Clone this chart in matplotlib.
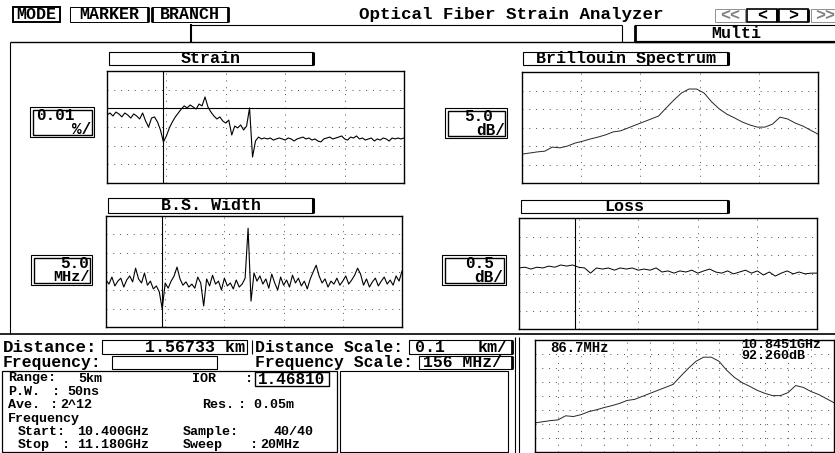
import numpy as np
import matplotlib
matplotlib.use("Agg")
import matplotlib.pyplot as plt
from matplotlib.patches import Rectangle

# ---- values ----
dist_start = 1.473      # km at left edge of the distance plots
dist_step = 0.005       # km per sample (strain, B.S. width)
loss_step = 0.01        # km per sample (loss)
dist_span = 0.5         # 0.1 km/div, 5 div
marker_km = 1.56733

strain_ref = 0.0        # horizontal reference line (%)
strain = [-0.0036, -0.0025, -0.0041, -0.0020, -0.0030, -0.0046, -0.0025, -0.0036, -0.0052, -0.0030,
          -0.0041, -0.0057, -0.0025, -0.0068, -0.0100, -0.0052, -0.0046, -0.0073, -0.0116, -0.0180,
          -0.0148, -0.0105, -0.0073, -0.0046, -0.0025, -0.0004, 0.0013, 0.0002, 0.0018, 0.0007,
          -0.0004, 0.0023, 0.0013, 0.0061, 0.0007, -0.0020, -0.0041, -0.0057, -0.0046, -0.0068,
          -0.0079, -0.0063, -0.0143, -0.0095, -0.0105, -0.0089, -0.0116, -0.0095, 0.0002, -0.0261,
          -0.0175, -0.0154, -0.0164, -0.0159, -0.0164, -0.0159, -0.0170, -0.0164, -0.0159, -0.0164,
          -0.0170, -0.0159, -0.0164, -0.0175, -0.0164, -0.0159, -0.0154, -0.0164, -0.0159, -0.0170,
          -0.0164, -0.0175, -0.0180, -0.0164, -0.0159, -0.0154, -0.0164, -0.0159, -0.0154, -0.0148,
          -0.0164, -0.0170, -0.0154, -0.0159, -0.0148, -0.0164, -0.0159, -0.0170, -0.0164, -0.0159,
          -0.0175, -0.0164, -0.0170, -0.0159, -0.0164, -0.0175, -0.0159, -0.0164, -0.0159, -0.0164,
          -0.0159]

bs_width = [32.7, 31.6, 33.5, 31.1, 32.4, 33.2, 30.8, 32.7, 33.8, 32.2,
            35.9, 33.0, 31.9, 34.6, 31.3, 32.4, 30.3, 31.1, 29.5, 24.9,
            31.9, 30.5, 32.4, 33.8, 36.2, 33.0, 31.3, 32.2, 30.8, 31.6,
            30.5, 33.5, 31.9, 25.7, 33.0, 31.1, 34.0, 31.6, 32.4, 30.0,
            33.2, 31.1, 31.9, 30.3, 32.7, 30.8, 31.6, 33.2, 46.7, 27.0,
            34.6, 32.4, 33.8, 31.6, 33.0, 30.5, 34.3, 31.9, 30.0, 33.5,
            31.3, 32.7, 30.8, 34.0, 31.9, 33.2, 31.1, 32.4, 30.3, 33.0,
            34.9, 36.7, 33.8, 31.9, 33.0, 30.8, 32.4, 31.6, 33.2, 31.3,
            32.4, 33.8, 31.6, 32.7, 34.0, 35.9, 34.3, 31.3, 33.0, 30.8,
            32.2, 33.2, 31.1, 32.4, 33.5, 31.6, 32.7, 31.3, 33.8, 32.4,
            35.1]

loss = [1.65, 1.67, 1.62, 1.67, 1.65, 1.70, 1.67, 1.73, 1.70, 1.73,
        1.67, 1.65, 1.51, 1.65, 1.62, 1.65, 1.59, 1.65, 1.62, 1.65,
        1.59, 1.62, 1.59, 1.65, 1.54, 1.57, 1.51, 1.57, 1.54, 1.59,
        1.51, 1.57, 1.62, 1.54, 1.51, 1.57, 1.49, 1.54, 1.59, 1.51,
        1.57, 1.46, 1.54, 1.43, 1.51, 1.57, 1.49, 1.54, 1.49, 1.51,
        1.51]

freq_start = 10.40      # GHz
freq_stop = 11.18
freq_step = 0.02        # sweep 20 MHz, 40 samples
spectrum = [74.8, 75.1, 75.4, 75.6, 76.7, 76.5, 77.0, 77.8, 78.3, 78.9,
            79.4, 80.0, 80.8, 81.1, 81.9, 82.7, 83.5, 84.3, 85.1, 87.3,
            89.4, 91.3, 92.4, 92.4, 91.3, 88.9, 87.0, 85.6, 84.6, 83.5,
            82.7, 82.1, 82.1, 82.9, 84.8, 84.3, 83.2, 82.4, 81.3, 80.2]

dist_x = dist_start + dist_step * np.arange(len(strain))
loss_x = dist_start + loss_step * np.arange(len(loss))
freq_x = freq_start + freq_step * np.arange(len(spectrum))

W, H = 835, 453
FONT = "Liberation Mono"
BIG = 12.0
SMALL = 9.6

fig = plt.figure(figsize=(W / 100, H / 100), dpi=100)
ui = fig.add_axes([0, 0, 1, 1])
ui.set_xlim(0, W)
ui.set_ylim(H, 0)
ui.axis("off")
ui.set_zorder(5)


def px_axes(x0, y0, x1, y1):
    return fig.add_axes([x0 / W, 1 - y1 / H, (x1 - x0) / W, (y1 - y0) / H])


def line(xs, ys, lw=0.8, color="k"):
    ui.plot(xs, ys, color=color, lw=lw, solid_capstyle="butt")


def box(x0, y0, x1, y1, lw=0.8, right=0, left=0, bottom=0, color="k"):
    ui.add_patch(Rectangle((x0, y0), x1 - x0, y1 - y0, fill=False, ec=color, lw=lw))
    if right:
        line([x1, x1], [y0, y1], lw=right)
    if left:
        line([x0, x0], [y0, y1], lw=left)
    if bottom:
        line([x0, x1], [y1, y1], lw=bottom)


def txt(x, y, s, size=BIG, ha="left", color="k"):
    ui.text(x, y, s, fontsize=size, ha=ha, va="center", family=FONT,
            weight="bold", color=color)


def scale_box(x0, y0, x1, y1):
    box(x0, y0, x1, y1, lw=0.8)
    box(x0 + 2.5, y0 + 2.5, x1 - 2.5, y1 - 2.5, lw=1.0)


def scope(rect, xlim, ylim, nx, ny):
    ax = px_axes(*rect)
    ax.set_xlim(xlim)
    ax.set_ylim(ylim)
    ax.set_xticks(np.linspace(xlim[0], xlim[1], nx + 1)[1:-1])
    ax.set_yticks(np.linspace(ylim[0], ylim[1], ny + 1)[1:-1])
    ax.grid(True, color="0.3", lw=0.7, ls=(0, (1, 6)))
    ax.tick_params(length=0, labelbottom=False, labelleft=False)
    for s in ax.spines.values():
        s.set_linewidth(1.0)
    return ax


dist_lim = (dist_start, dist_start + dist_span)
freq_lim = (freq_start, freq_stop)

# strain
ax = scope((107, 71, 404, 183), dist_lim, (-0.04, 0.02), 5, 6)
ax.axhline(strain_ref, color="k", lw=0.8)
ax.plot(dist_x, strain, color="k", lw=0.8)
ax.axvline(marker_km, color="k", lw=0.8)

# brillouin spectrum
ax = scope((522, 72, 818, 183), freq_lim, (67, 97), 5, 6)
ax.plot(freq_x, spectrum, color="0.15", lw=0.7)

# B.S. width
ax = scope((106, 216, 402, 327), dist_lim, (20, 50), 5, 6)
ax.plot(dist_x, bs_width, color="k", lw=0.8)
ax.axvline(marker_km, color="k", lw=0.8)

# loss
ax = scope((519, 218, 817, 329), dist_lim, (0, 3), 5, 6)
ax.plot(loss_x, loss, color="k", lw=0.7)
ax.axvline(marker_km, color="k", lw=0.8)

# small spectrum at bottom right
ax = scope((535, 340, 834, 452), freq_lim, (67, 97), 13, 8)
ax.plot(freq_x, spectrum, color="0.15", lw=0.7)

# ---- top bar ----
box(13, 7, 60, 22, lw=1.4)
txt(36.5, 14.5, "MODE", ha="center")
box(70, 7, 148, 22, lw=0.7, right=2.0)
txt(109, 14.5, "MARKER", ha="center")
box(152, 7, 228, 22, lw=0.7, left=2.0, right=2.0)
txt(190, 14.5, "BRANCH", ha="center")
txt(511, 14, "Optical Fiber Strain Analyzer", ha="center", size=12.6)

box(715, 9, 745, 22, lw=0.6, color="0.5")
txt(730, 15.5, "<<", ha="center", color="0.5")
box(747, 9, 777, 22, lw=1.2, right=2.0)
txt(762, 15.5, "<", ha="center")
box(779, 9, 808, 22, lw=1.2, right=2.0)
txt(793.5, 15.5, ">", ha="center")
box(811, 9, 845, 22, lw=0.6, color="0.5")
txt(815, 15.5, ">>", color="0.5")

line([191, 191], [24, 42], lw=1.5)
line([191, 622], [25, 25])
line([622, 622], [25, 42])
box(635, 25, 845, 42, lw=0.8, left=2.0, bottom=1.6)
txt(736, 33, "Multi", ha="center")

line([10, 835], [42, 42], lw=1.0)
line([10, 10], [42, 334])
line([0, 835], [334, 334], lw=1.2)

# ---- plot headers and scale boxes ----
box(109, 52, 313, 65, right=2.2)
txt(211, 58.5, "Strain", ha="center")
box(523, 52, 728, 65, right=2.2)
txt(626, 58.5, "Brillouin Spectrum", ha="center")
box(108, 198, 313, 213, right=2.2)
txt(211, 205.5, "B.S. Width", ha="center")
box(521, 200, 728, 213, right=2.2)
txt(624, 206.5, "Loss", ha="center")

scale_box(30, 107, 94, 137)
txt(36, 115.5, "0.01", size=11.5)
txt(91, 129, "%/", ha="right", size=11.5)
scale_box(445, 108, 507, 138)
txt(493, 116.5, "5.0", ha="right", size=11.5)
txt(505, 130.5, "dB/", ha="right", size=11.5)
scale_box(31, 255, 92, 285)
txt(89, 263, "5.0", ha="right", size=11.5)
txt(90, 277, "MHz/", ha="right", size=11)
scale_box(442, 255, 506, 285)
txt(494, 263, "0.5", ha="right", size=11.5)
txt(503, 277, "dB/", ha="right", size=11.5)

# ---- bottom readouts ----
txt(3, 347, "Distance:", size=12.6)
box(102, 340, 247, 354)
txt(245, 347, "1.56733 km", ha="right")
line([252, 252], [340, 354])
txt(255, 347, "Distance Scale:", size=11.8)
box(409, 340, 512, 354, right=2.0)
txt(415, 347, "0.1")
txt(508, 347, "km/", ha="right")
txt(3, 362, "Frequency:", size=11.8)
box(112, 356, 217, 369)
txt(255, 362, "Frequency Scale:", size=11.8)
box(419, 356, 512, 369, right=2.0)
txt(423, 362.5, "156 MHz/", size=11.8)
line([515, 515], [337, 453])
line([519, 519], [337, 453])

S = SMALL
rows = [378.5, 392, 405.5, 419, 432, 445]
box(2, 371, 337, 452, lw=0.9)
txt(8, rows[0], "Range:", size=S)
txt(78, rows[0], "5km", size=S)
txt(192, rows[0], "IOR", size=S)
txt(245, rows[0], ":", size=S)
box(255, 372, 329, 386, lw=1.0)
txt(258, 379, "1.46810", size=11.5)
txt(8, rows[1], "P.W.", size=S)
txt(52, rows[1], ":", size=S)
txt(67, rows[1], "50ns", size=S)
txt(8, rows[2], "Ave.", size=S)
txt(50, rows[2], ":", size=S)
txt(60, rows[2], "2^12", size=S)
txt(202, rows[2], "Res.", size=S)
txt(238, rows[2], ": 0.05m", size=S)
txt(8, rows[3], "Frequency", size=S)
txt(18, rows[4], "Start:", size=S)
txt(77, rows[4], "10.400GHz", size=S)
txt(183, rows[4], "Sample:", size=S)
txt(273, rows[4], "40/40", size=S)
txt(18, rows[5], "Stop", size=S)
txt(62, rows[5], ":", size=S)
txt(77, rows[5], "11.180GHz", size=S)
txt(183, rows[5], "Sweep", size=S)
txt(250, rows[5], ":", size=S)
txt(260, rows[5], "20MHz", size=S)
box(340, 371, 508, 452)

txt(550, 347.5, "86.7MHz", size=10)
txt(741, 345.5, "10.8451GHz", size=9.6)
txt(741, 356, "92.260dB", size=9.6)

fig.savefig("out.png", dpi=100)
